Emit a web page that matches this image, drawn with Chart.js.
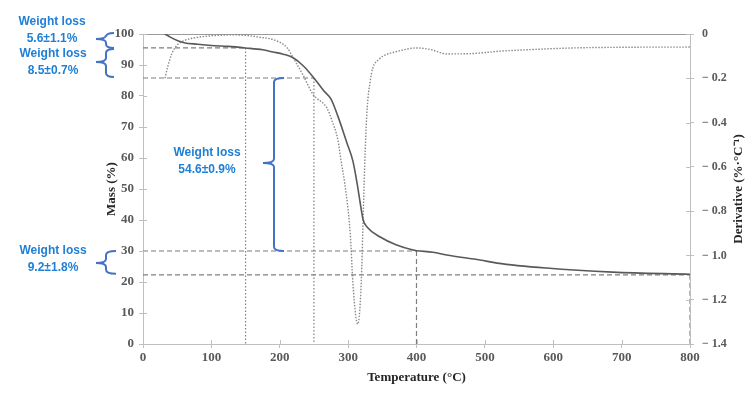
<!DOCTYPE html>
<html>
<head>
<meta charset="utf-8">
<script src="https://cdn.jsdelivr.net/npm/chart.js@4.4.1/dist/chart.umd.min.js"></script>
<style>
  html, body { margin: 0; padding: 0; background: #fff; }
</style>
</head>
<body>
<canvas id="myChart" width="754" height="393"></canvas>
<script>
/* globals Chart:false */

// Mass curve (TGA)
const massTemp = [32, 40, 50, 60, 80, 100, 125, 150, 175, 190, 205, 219, 235, 250, 265, 275, 285, 298, 307, 313, 320, 322, 328, 347, 370, 395, 400, 424, 444, 493, 518, 590, 687, 800];
const massValues = [100, 99, 97.9, 97.2, 96.7, 96.3, 96.0, 95.5, 94.9, 94.2, 93.5, 92.4, 89.6, 85.8, 81.5, 79, 73.5, 65, 59, 52, 42.3, 40, 37.7, 34.5, 32, 30.3, 30.1, 29.6, 28.7, 27.1, 26.1, 24.5, 23.2, 22.5];

// Derivative curve (DTG), right axis
const derivTemp = [32, 36, 42, 50, 60, 80, 100, 130, 150, 171, 190, 211, 219, 234, 249, 254, 269, 276, 285, 290, 295, 303, 307, 311, 314, 317, 320, 322, 325, 328, 332, 336, 345, 351, 370, 401, 420, 445, 483, 520, 556, 629, 700, 800];
const derivValues = [-0.2, -0.15, -0.09, -0.05, -0.03, -0.015, -0.008, -0.004, -0.006, -0.015, -0.025, -0.063, -0.104, -0.185, -0.275, -0.29, -0.334, -0.388, -0.479, -0.58, -0.673, -0.899, -1.124, -1.27, -1.31, -1.25, -1.052, -0.826, -0.524, -0.33, -0.22, -0.154, -0.115, -0.1, -0.08, -0.063, -0.07, -0.09, -0.088, -0.078, -0.072, -0.063, -0.06, -0.059];

// step levels (mass %) and the temperatures where each step ends
const stepLevels = [100, 95.5, 85.8, 30, 22.3];
const stepTemps = [150, 250, 400, 800];
const lossLabels = ["5.6±1.1%", "8.5±0.7%", "54.6±0.9%", "9.2±1.8%"];

const toXY = (xs, ys) => xs.map((x, i) => ({ x: x, y: ys[i] }));

const serif = '"Liberation Serif", "Times New Roman", serif';
const tickFont = { family: serif, size: 13, weight: "bold" };
const axisGrey = "#bfbfbf";
const refGrey = "#7f7f7f";

const datasets = [
  {
    label: "Mass",
    data: toXY(massTemp, massValues),
    yAxisID: "y",
    borderColor: "#595959",
    borderWidth: 1.6,
    pointRadius: 0,
    cubicInterpolationMode: "monotone",
  },
  {
    label: "Derivative",
    data: toXY(derivTemp, derivValues),
    yAxisID: "y2",
    borderColor: "#8a8a8a",
    borderWidth: 1.4,
    borderDash: [1.5, 1.5],
    pointRadius: 0,
    cubicInterpolationMode: "monotone",
  },
  {
    label: "top",
    data: toXY([0, 800], [stepLevels[0], stepLevels[0]]),
    yAxisID: "y",
    borderColor: "#7a7a7a",
    borderWidth: 1.5,
    pointRadius: 0,
  },
];

// dashed guides for each weight-loss step
stepTemps.forEach((t, i) => {
  const lvl = stepLevels[i + 1];
  datasets.push({
    label: "h" + i,
    data: toXY([0, t], [lvl, lvl]),
    yAxisID: "y",
    borderColor: refGrey,
    borderWidth: 1.2,
    borderDash: [5, 3],
    pointRadius: 0,
  });
  datasets.push({
    label: "v" + i,
    data: toXY([t, t], [lvl, 0]),
    yAxisID: "y",
    borderColor: refGrey,
    borderWidth: 1.2,
    borderDash: t < 300 ? [1.5, 2] : [5, 3],
    pointRadius: 0,
  });
});

function brace(ctx, x, yTop, yBot, tipY, hook, tip) {
  const r = Math.min(4, (yBot - yTop) / 4);
  ctx.beginPath();
  ctx.moveTo(x + hook, yTop);
  ctx.quadraticCurveTo(x, yTop, x, yTop + r);
  ctx.lineTo(x, tipY - r);
  ctx.quadraticCurveTo(x, tipY, x - tip, tipY);
  ctx.quadraticCurveTo(x, tipY, x, tipY + r);
  ctx.lineTo(x, yBot - r);
  ctx.quadraticCurveTo(x, yBot, x + hook, yBot);
  ctx.stroke();
}

const annotate = {
  id: "annotate",
  afterDraw(chart) {
    const { ctx, chartArea: a, scales } = chart;
    const { x, y, y2 } = scales;
    ctx.save();

    // inner half of the cross tick marks
    ctx.strokeStyle = axisGrey;
    ctx.lineWidth = 1;
    ctx.beginPath();
    x.ticks.forEach((t) => {
      const px = Math.round(x.getPixelForValue(t.value)) + 0.5;
      ctx.moveTo(px, a.bottom);
      ctx.lineTo(px, a.bottom - 4);
    });
    y.ticks.forEach((t) => {
      const py = Math.round(y.getPixelForValue(t.value)) + 0.5;
      ctx.moveTo(a.left, py);
      ctx.lineTo(a.left + 4, py);
    });
    y2.ticks.forEach((t) => {
      const py = Math.round(y2.getPixelForValue(t.value)) + 0.5;
      ctx.moveTo(a.right, py);
      ctx.lineTo(a.right - 4, py);
    });
    ctx.stroke();

    // braces
    ctx.strokeStyle = "#4472c4";
    ctx.lineWidth = 2;
    const py = stepLevels.map((v) => y.getPixelForValue(v));
    brace(ctx, 106, py[0] - 1, py[1], 39, 8, 10);
    brace(ctx, 106, py[1] + 1, py[2] - 1, 62, 8, 10);
    brace(ctx, 274, py[2], py[3], 163, 10, 11);
    brace(ctx, 106, py[3], py[4] - 1, 263, 10, 10);

    // labels
    ctx.fillStyle = "#1f7fd6";
    ctx.font = 'bold 12px "Liberation Sans", Arial, sans-serif';
    ctx.textAlign = "center";
    ctx.textBaseline = "middle";
    const spots = [[52, 22, 39], [53, 54, 71], [207, 153, 170], [53, 251, 268]];
    spots.forEach((s, i) => {
      ctx.fillText("Weight loss", s[0], s[1]);
      ctx.fillText(lossLabels[i], s[0], s[2]);
    });

    // right axis title, reads bottom to top
    ctx.fillStyle = "#262626";
    ctx.font = "bold 13px " + serif;
    ctx.translate(739, (a.top + a.bottom) / 2);
    ctx.rotate(-Math.PI / 2);
    ctx.fillText("Derivative (%·°C⁻¹)", 0, 0);
    ctx.restore();
  },
};

const ctx = document.getElementById("myChart");
// eslint-disable-next-line no-unused-vars
const myChart = new Chart(ctx, {
  type: "line",
  data: { datasets: datasets },
  plugins: [annotate],
  options: {
    responsive: false,
    animation: false,
    layout: { padding: { left: 95, top: 34, right: 0, bottom: 0 } },
    plugins: {
      legend: { display: false },
      tooltip: { enabled: false },
    },
    scales: {
      x: {
        type: "linear",
        min: 0,
        max: 800,
        ticks: { stepSize: 100, color: "#595959", font: tickFont, padding: 2 },
        grid: { drawOnChartArea: false, tickLength: 4, color: axisGrey },
        border: { color: axisGrey },
        title: {
          display: true,
          text: "Temperature (°C)",
          color: "#262626",
          font: { family: serif, size: 13, weight: "bold" },
          padding: { top: 0, bottom: 8 },
        },
        afterFit: (s) => { s.height = 49; },
      },
      y: {
        position: "left",
        min: 0,
        max: 100,
        ticks: { stepSize: 10, color: "#595959", font: tickFont, padding: 5 },
        grid: { drawOnChartArea: false, tickLength: 4, color: axisGrey },
        border: { color: axisGrey },
        title: {
          display: true,
          text: "Mass (%)",
          color: "#262626",
          font: { family: serif, size: 13, weight: "bold" },
          padding: { top: 9, bottom: 0 },
        },
        afterFit: (s) => { s.width = 48; },
      },
      y2: {
        position: "right",
        min: -1.4,
        max: 0,
        ticks: {
          stepSize: 0.2,
          color: "#595959",
          font: { family: serif, size: 12, weight: "bold" },
          padding: 8,
          callback: (v) => (Math.abs(v) < 1e-9 ? "0" : "\u2212 " + Math.abs(v).toFixed(1)),
        },
        grid: { drawOnChartArea: false, tickLength: 4, color: axisGrey },
        border: { color: axisGrey },
        afterFit: (s) => { s.width = 64; },
      },
    },
  },
});
</script>
</body>
</html>
